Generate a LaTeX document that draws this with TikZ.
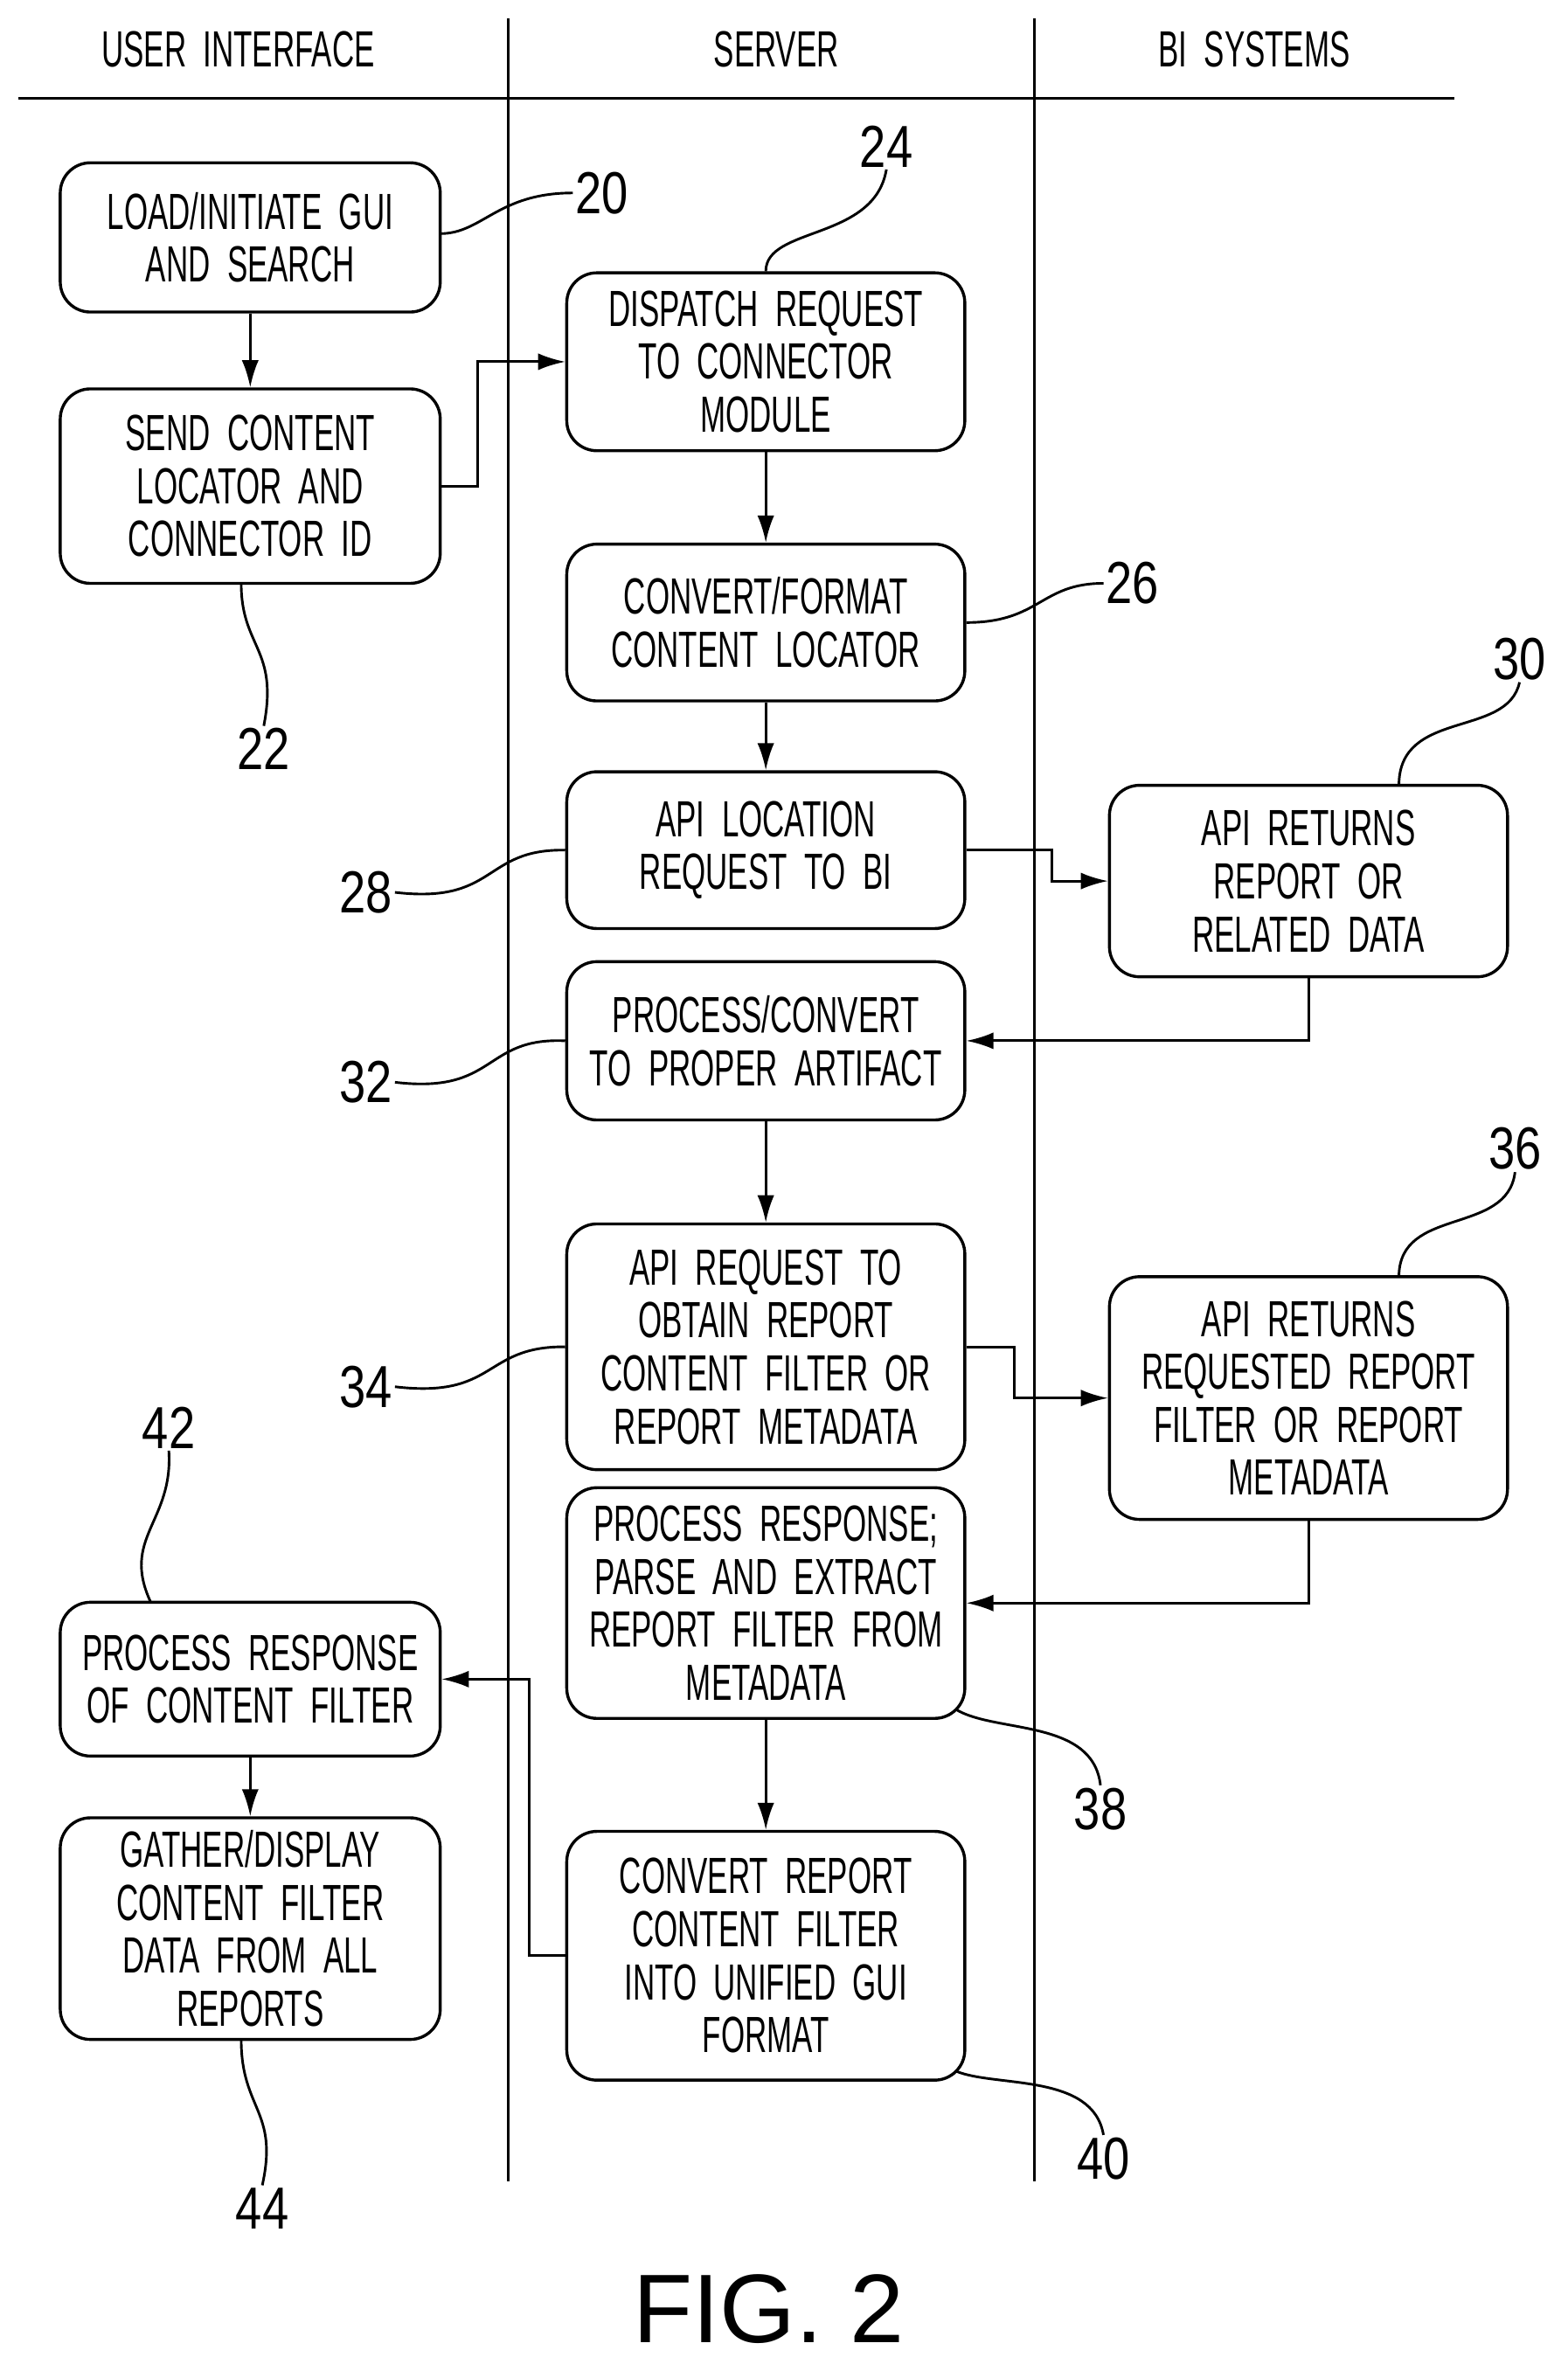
\documentclass[tikz,border=0pt]{standalone}
\usepackage{fontspec}
\setmainfont{Liberation Sans}[FakeStretch=0.6,WordSpace=2]
\newfontfamily\figfont{Liberation Sans}
\newfontfamily\numfont{Liberation Sans}[FakeStretch=0.8]
\usetikzlibrary{arrows.meta}
\begin{document}
\begin{tikzpicture}[x=0.025cm,y=-0.025cm,
  box/.style={draw, line width=1.4pt, rounded corners=0.5cm, align=center,
    inner sep=0pt, font=\fontsize{24}{25}\selectfont},
  flow/.style={line width=1.2pt, -{Latex[length=0.45cm,width=0.28cm]}},
  lead/.style={line width=1.2pt},
  num/.style={font=\numfont\fontsize{28}{30}\selectfont, inner sep=1pt},
  lane/.style={line width=1.2pt}]
  \useasboundingbox (0,0) rectangle (1040,1573);

  % lanes
  \draw[lane] (12,65) -- (965,65);
  \draw[lane] (337,12) -- (337,1447);
  \draw[lane] (686,12) -- (686,1447);
  \node (h1) [font=\fontsize{24}{25}\selectfont] at (158,33) {USER INTERFACE};
  \node (h2) [font=\fontsize{24}{25}\selectfont] at (515,33) {SERVER};
  \node (h3) [font=\fontsize{24}{25}\selectfont] at (832,33) {BI SYSTEMS};

  % steps
  \node (b20) [box, minimum width=6.3cm, minimum height=2.475cm] at (166,157.5) {LOAD/INITIATE GUI\\AND SEARCH};
  \node (b22) [box, minimum width=6.3cm, minimum height=3.225cm] at (166,322.5) {SEND CONTENT\\LOCATOR AND\\CONNECTOR ID};
  \node (b24) [box, minimum width=6.6cm, minimum height=2.95cm] at (508,240) {DISPATCH REQUEST\\TO CONNECTOR\\MODULE};
  \node (b26) [box, minimum width=6.6cm, minimum height=2.6cm] at (508,413) {CONVERT/FORMAT\\CONTENT LOCATOR};
  \node (b28) [box, minimum width=6.6cm, minimum height=2.6cm] at (508,564) {API LOCATION\\REQUEST TO BI};
  \node (b30) [box, minimum width=6.6cm, minimum height=3.175cm] at (868,584.5) {API RETURNS\\REPORT OR\\RELATED DATA};
  \node (b32) [box, minimum width=6.6cm, minimum height=2.625cm] at (508,690.5) {PROCESS/CONVERT\\TO PROPER ARTIFACT};
  \node (b34) [box, minimum width=6.6cm, minimum height=4.075cm] at (508,893.5) {API REQUEST TO\\OBTAIN REPORT\\CONTENT FILTER OR\\REPORT METADATA};
  \node (b36) [box, minimum width=6.6cm, minimum height=4.025cm] at (868,927.5) {API RETURNS\\REQUESTED REPORT\\FILTER OR REPORT\\METADATA};
  \node (b38) [box, minimum width=6.6cm, minimum height=3.825cm] at (508,1063.5) {PROCESS RESPONSE;\\PARSE AND EXTRACT\\REPORT FILTER FROM\\METADATA};
  \node (b40) [box, minimum width=6.6cm, minimum height=4.125cm] at (508,1297.5) {CONVERT REPORT\\CONTENT FILTER\\INTO UNIFIED GUI\\FORMAT};
  \node (b42) [box, minimum width=6.3cm, minimum height=2.55cm] at (166,1114) {PROCESS RESPONSE\\OF CONTENT FILTER};
  \node (b44) [box, minimum width=6.3cm, minimum height=3.675cm] at (166,1279.5) {GATHER/DISPLAY\\CONTENT FILTER\\DATA FROM ALL\\REPORTS};

  % connectors
  \draw[flow] (b20) -- (b22);
  \draw[flow] (b22.east) -- ++(24,0) |- (b24.west);
  \draw[flow] (b24) -- (b26);
  \draw[flow] (b26) -- (b28);
  \draw[flow] (b28.east) -- ++(57,0) |- (b30.west);
  \draw[flow] (b30.south) |- (b32.east);
  \draw[flow] (b32) -- (b34);
  \draw[flow] (b34.east) -- ++(32,0) |- (b36.west);
  \draw[flow] (b36.south) |- (b38.east);
  \draw[flow] (b38) -- (b40);
  \draw[flow] (b40.west) -- ++(-24,0) |- (b42.east);
  \draw[flow] (b42) -- (b44);

  % reference numerals
  \node (n20) [num, anchor=west] at (380,128) {20};
  \draw[lead] (292,155) .. controls (320,155) and (330,128) .. (n20.west);
  \node (n22) [num] at (175,497) {22};
  \draw[lead] (160,387) .. controls (160,430) and (185,430) .. (n22.north);
  \node (n24) [num] at (588,97) {24};
  \draw[lead] (b24.north) .. controls (508,150) and (580,160) .. (n24.south);
  \node (n26) [num, anchor=west] at (732,387) {26};
  \draw[lead] (b26.east) .. controls (690,413) and (690,387) .. (n26.west);
  \node (n28) [num, anchor=east] at (262,592) {28};
  \draw[lead] (n28.east) .. controls (330,600) and (320,563) .. (b28.west);
  \node (n30) [num] at (1008,437) {30};
  \draw[lead] (928,521) .. controls (928,470) and (1000,490) .. (n30.south);
  \node (n32) [num, anchor=east] at (262,718) {32};
  \draw[lead] (n32.east) .. controls (330,726) and (320,688) .. (b32.west);
  \node (n34) [num, anchor=east] at (262,920) {34};
  \draw[lead] (n34.east) .. controls (330,928) and (320,893) .. (b34.west);
  \node (n36) [num] at (1005,762) {36};
  \draw[lead] (928,847) .. controls (928,800) and (1000,820) .. (n36.south);
  \node (n38) [num] at (730,1200) {38};
  \draw[lead] (634,1134) .. controls (660,1150) and (725,1140) .. (n38.north);
  \node (n40) [num] at (732,1432) {40};
  \draw[lead] (634,1374) .. controls (660,1385) and (725,1375) .. (n40.north);
  \node (n42) [num] at (112,947) {42};
  \draw[lead] (100,1063) .. controls (80,1020) and (115,1010) .. (n42.south);
  \node (n44) [num] at (174,1465) {44};
  \draw[lead] (160,1353) .. controls (160,1400) and (185,1400) .. (n44.north);

  \node (fig) [font=\figfont\fontsize{46}{50}\selectfont] at (510,1532) {FIG. 2};
\end{tikzpicture}
\end{document}
